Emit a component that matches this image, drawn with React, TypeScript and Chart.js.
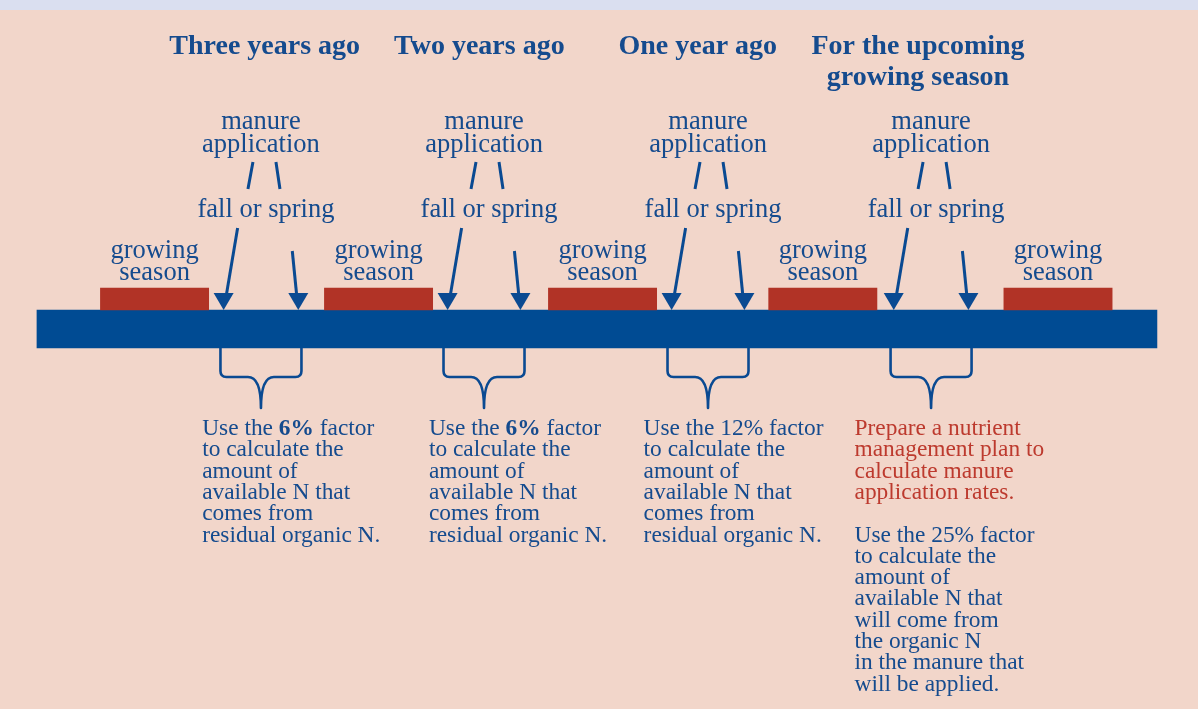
import React, { useEffect, useRef } from 'react';
import { Chart, registerables } from 'chart.js';

Chart.register(...registerables);

// ---- Data (timeline measured in months; 0 = start of the timeline bar) ----
const periodLabels: string[][] = [
  ['Three years ago'],
  ['Two years ago'],
  ['One year ago'],
  ['For the upcoming', 'growing season'],
];
const periodCenter = [12.2, 23.7, 35.4, 47.2];
const timelineMonths: [number, number] = [0, 60];
const seasonStart = [3.4, 15.4, 27.4, 39.2, 51.8];
const seasonEnd = [9.2, 21.2, 33.2, 45.0, 57.6];
const fallApplication = [10.0, 22.0, 34.0, 45.9];
const springApplication = [14.0, 25.9, 37.9, 49.9];
const applicationLabel = ['manure', 'application'];
const timingLabel = 'fall or spring';
const seasonLabel = ['growing', 'season'];
const noteStart = [8.85, 21.0, 32.5, 43.8];
const planNotes: string[][] = [
  [],
  [],
  [],
  ['Prepare a nutrient', 'management plan to', 'calculate manure', 'application rates.'],
];
const factorNotes: string[][] = [
  ['Use the **6%** factor', 'to calculate the', 'amount of', 'available N that', 'comes from', 'residual organic N.'],
  ['Use the **6%** factor', 'to calculate the', 'amount of', 'available N that', 'comes from', 'residual organic N.'],
  ['Use the 12% factor', 'to calculate the', 'amount of', 'available N that', 'comes from', 'residual organic N.'],
  ['Use the 25% factor', 'to calculate the', 'amount of', 'available N that', 'will come from', 'the organic N', 'in the manure that', 'will be applied.'],
];

// ---- Styles ----
const BG = '#f2d6ca';
const BAND = '#dadff0';
const BAR_BLUE = '#004b93';
const SEASON_RED = '#b13326';
const TEXT_BLUE = '#154b8e';
const LINE_BLUE = '#0a4a92';
const TEXT_RED = '#bd3a2e';
const FONT = '"Liberation Serif", "Times New Roman", serif';

const W = 1198;
const H = 709;

function drawArrow(ctx: CanvasRenderingContext2D, x0: number, y0: number, x1: number, y1: number) {
  const headH = 17;
  const headW = 20;
  const t = (y1 - headH - y0) / (y1 - y0);
  const bx = x0 + (x1 - x0) * t;
  ctx.beginPath();
  ctx.moveTo(x0, y0);
  ctx.lineTo(bx, y1 - headH + 1);
  ctx.lineWidth = 3;
  ctx.strokeStyle = LINE_BLUE;
  ctx.stroke();
  ctx.beginPath();
  ctx.moveTo(x1, y1);
  ctx.lineTo(x1 - headW / 2, y1 - headH);
  ctx.lineTo(x1 + headW / 2, y1 - headH);
  ctx.closePath();
  ctx.fillStyle = LINE_BLUE;
  ctx.fill();
}

function drawBrace(ctx: CanvasRenderingContext2D, L: number, R: number, top: number) {
  const C = (L + R) / 2;
  const hy = top + 29;
  const tip = top + 60;
  const r = 6;
  ctx.beginPath();
  ctx.moveTo(L, top);
  ctx.lineTo(L, hy - r);
  ctx.quadraticCurveTo(L, hy, L + r, hy);
  ctx.lineTo(C - 13, hy);
  ctx.bezierCurveTo(C - 4, hy, C, hy + 10, C, tip);
  ctx.bezierCurveTo(C, hy + 10, C + 4, hy, C + 13, hy);
  ctx.lineTo(R - r, hy);
  ctx.quadraticCurveTo(R, hy, R, hy - r);
  ctx.lineTo(R, top);
  ctx.lineWidth = 2.6;
  ctx.strokeStyle = LINE_BLUE;
  ctx.lineJoin = 'round';
  ctx.stroke();
}

function drawRichLine(ctx: CanvasRenderingContext2D, text: string, x: number, y: number, size: number, color: string) {
  const parts = text.split('**');
  let cx = x;
  ctx.textAlign = 'left';
  ctx.fillStyle = color;
  parts.forEach((p, i) => {
    ctx.font = `${i % 2 === 1 ? 'bold ' : ''}${size}px ${FONT}`;
    ctx.fillText(p, cx, y);
    cx += ctx.measureText(p).width;
  });
}

const diagramPlugin = {
  id: 'diagram',
  beforeDraw(chart: any) {
    const { ctx, width, height } = chart;
    ctx.save();
    ctx.fillStyle = BG;
    ctx.fillRect(0, 0, width, height);
    ctx.fillStyle = BAND;
    ctx.fillRect(0, 0, width, 10);
    ctx.restore();
  },
  afterDatasetsDraw(chart: any) {
    const { ctx } = chart;
    const xs = chart.scales.x;
    const ys = chart.scales.y;
    const px = (v: number) => xs.getPixelForValue(v);
    const py = (v: number) => ys.getPixelForValue(v);
    const barTop = py(310);
    const barBottom = py(348);
    ctx.save();
    ctx.textBaseline = 'alphabetic';

    fallApplication.forEach((fall, i) => {
      const fx = px(fall);
      const sx = px(springApplication[i]);
      const mid = (fx + sx) / 2;

      // period header
      ctx.fillStyle = TEXT_BLUE;
      ctx.textAlign = 'center';
      ctx.font = `bold 28px ${FONT}`;
      periodLabels[i].forEach((line, k) => ctx.fillText(line, px(periodCenter[i]), py(54 + k * 31)));

      // manure application
      ctx.font = `26.5px ${FONT}`;
      applicationLabel.forEach((line, k) => ctx.fillText(line, mid, py(129 + k * 23)));

      // slashes
      const sc = mid + 3;
      ctx.strokeStyle = LINE_BLUE;
      ctx.lineWidth = 3;
      ctx.beginPath();
      ctx.moveTo(sc - 11, py(162));
      ctx.lineTo(sc - 16, py(189));
      ctx.moveTo(sc + 12, py(162));
      ctx.lineTo(sc + 16, py(189));
      ctx.stroke();

      // fall or spring
      ctx.fillText(timingLabel, mid + 5, py(217));

      // arrows
      drawArrow(ctx, fx + 14, py(228), fx, barTop);
      drawArrow(ctx, sx - 6, py(251), sx, barTop);

      // brace
      drawBrace(ctx, mid - 40.5, mid + 40.5, barBottom);

      // notes
      const left = px(noteStart[i]);
      let line = 0;
      const lh = 21.3;
      planNotes[i].forEach((t) => {
        drawRichLine(ctx, t, left, py(435 + line * lh), 23.4, TEXT_RED);
        line++;
      });
      if (planNotes[i].length) line++;
      factorNotes[i].forEach((t) => {
        drawRichLine(ctx, t, left, py(435 + line * lh), 23.4, TEXT_BLUE);
        line++;
      });
    });

    // growing season labels
    ctx.fillStyle = TEXT_BLUE;
    ctx.textAlign = 'center';
    ctx.font = `26.5px ${FONT}`;
    seasonStart.forEach((s, i) => {
      const c = (px(s) + px(seasonEnd[i])) / 2;
      seasonLabel.forEach((line, k) => ctx.fillText(line, c, py(258 + k * 22)));
    });
    ctx.restore();
  },
};

export default function App() {
  const ref = useRef<HTMLCanvasElement | null>(null);
  useEffect(() => {
    document.body.style.margin = '0';
    const canvas = ref.current;
    if (!canvas) return;
    const chart = new Chart(canvas, {
      type: 'bar',
      data: {
        datasets: [
          {
            label: 'growing season',
            data: seasonStart.map((s, i) => ({ x: [s, seasonEnd[i]], y: 299 })) as any,
            backgroundColor: SEASON_RED,
            barThickness: 22,
            grouped: false,
            borderWidth: 0,
          } as any,
          {
            label: 'timeline',
            data: [{ x: timelineMonths, y: 329 }] as any,
            backgroundColor: BAR_BLUE,
            barThickness: 38,
            grouped: false,
            borderWidth: 0,
          } as any,
        ],
      },
      options: {
        indexAxis: 'y',
        responsive: false,
        maintainAspectRatio: false,
        animation: false,
        devicePixelRatio: 1,
        events: [],
        layout: { padding: 0 },
        plugins: { legend: { display: false }, tooltip: { enabled: false } },
        scales: {
          x: { type: 'linear', min: -1.98, max: 62.2, display: false, offset: false },
          y: { type: 'linear', min: 0, max: H, reverse: true, display: false, offset: false },
        },
      } as any,
      plugins: [diagramPlugin],
    });
    return () => chart.destroy();
  }, []);
  return (
    <div style={{ position: 'fixed', left: 0, top: 0, width: W, height: H }}>
      <canvas ref={ref} width={W} height={H} style={{ display: 'block', width: W, height: H }} />
    </div>
  );
}
